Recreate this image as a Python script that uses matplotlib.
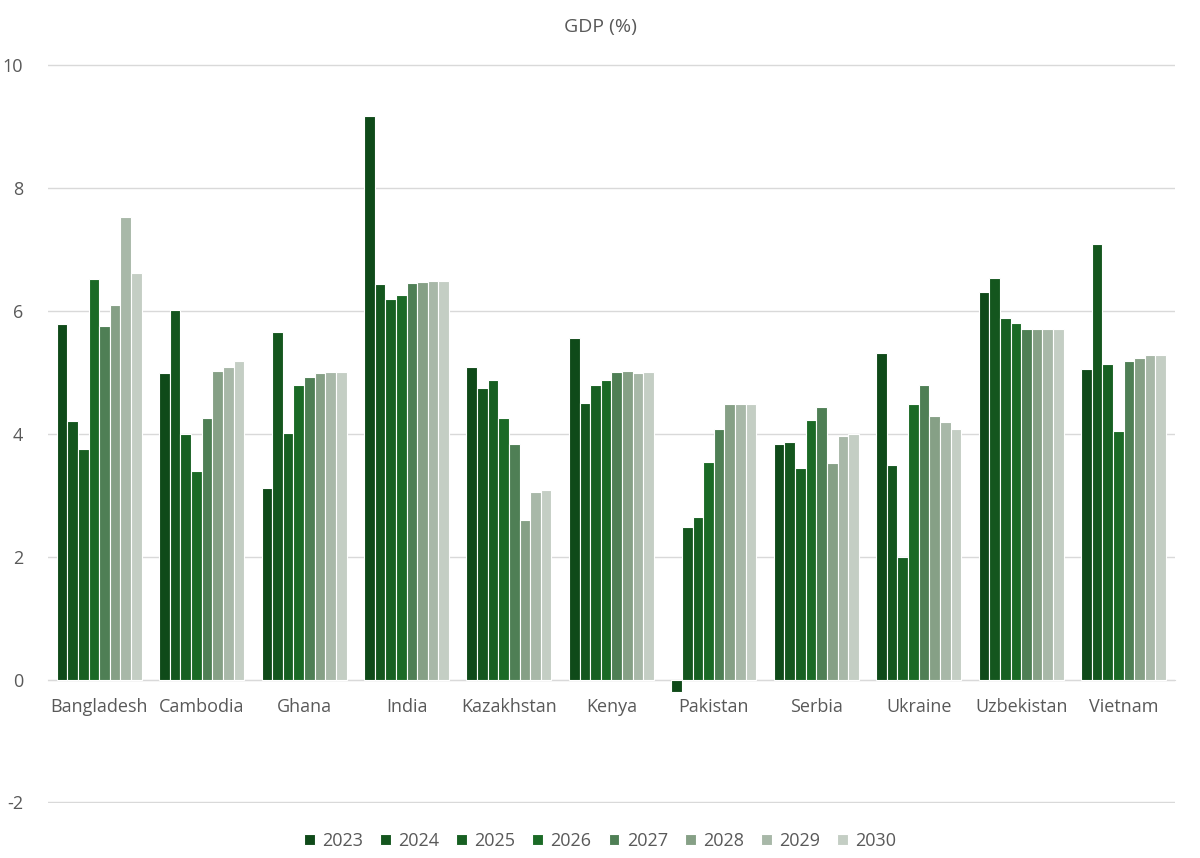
import matplotlib.pyplot as plt
import numpy as np

plt.rcParams['font.family'] = ['Open Sans', 'DejaVu Sans']
plt.rcParams['axes.unicode_minus'] = False

countries = ['Bangladesh', 'Cambodia', 'Ghana', 'India', 'Kazakhstan', 'Kenya',
             'Pakistan', 'Serbia', 'Ukraine', 'Uzbekistan', 'Vietnam']
years = ['2023', '2024', '2025', '2026', '2027', '2028', '2029', '2030']

# GDP growth (%), one list per year, in country order
gdp_2023 = [5.78, 4.98, 3.12, 9.17, 5.09, 5.55, -0.21, 3.83, 5.31, 6.30, 5.05]
gdp_2024 = [4.21, 6.01, 5.66, 6.43, 4.74, 4.50, 2.49, 3.87, 3.49, 6.54, 7.08]
gdp_2025 = [3.75, 3.99, 4.01, 6.19, 4.87, 4.80, 2.64, 3.44, 1.99, 5.89, 5.13]
gdp_2026 = [6.52, 3.40, 4.79, 6.25, 4.25, 4.87, 3.54, 4.22, 4.48, 5.80, 4.04]
gdp_2027 = [5.76, 4.26, 4.93, 6.45, 3.84, 5.01, 4.08, 4.43, 4.79, 5.70, 5.18]
gdp_2028 = [6.10, 5.02, 4.98, 6.47, 2.60, 5.02, 4.48, 3.52, 4.29, 5.70, 5.23]
gdp_2029 = [7.52, 5.08, 5.00, 6.48, 3.05, 4.99, 4.48, 3.97, 4.19, 5.70, 5.28]
gdp_2030 = [6.61, 5.19, 5.00, 6.49, 3.08, 5.01, 4.48, 3.99, 4.08, 5.70, 5.28]
series = [gdp_2023, gdp_2024, gdp_2025, gdp_2026, gdp_2027, gdp_2028, gdp_2029, gdp_2030]

colors = ['#0f4a19', '#14561e', '#176022', '#1b6a26', '#4f7f55', '#86a086', '#a8b8a8', '#c4cec4']
grey = '#595959'

fig = plt.figure(figsize=(12, 8.58), dpi=100)
ax = fig.add_axes([0.04, 0.064, 0.939, 0.861])

x = np.arange(len(countries))
group_w = 0.83
bw = group_w / len(years)
for i, (yr, vals) in enumerate(zip(years, series)):
    ax.bar(x - group_w / 2 + bw * (i + 0.5), vals, width=bw, color=colors[i],
           edgecolor='white', linewidth=0.8, label=yr, zorder=3)

ax.set_xlim(-0.5, len(countries) - 0.5)
ax.set_ylim(-2.01, 10.01)
ax.set_yticks(range(-2, 11, 2))
ax.grid(axis='y', color='#d9d9d9', linewidth=1, zorder=0)
for s in ['top', 'right', 'left']:
    ax.spines[s].set_visible(False)
ax.spines['bottom'].set_position(('data', 0))
ax.spines['bottom'].set_color('#d9d9d9')
ax.spines['bottom'].set_zorder(2)
ax.set_xticks(x)
ax.set_xticklabels(countries)
ax.tick_params(axis='x', length=0, pad=13, labelsize=13, labelcolor=grey)
ax.tick_params(axis='y', length=0, pad=18, labelsize=13, labelcolor=grey)

fig.text(0.5, 0.968, 'GDP (%)', ha='center', va='center', fontsize=14, color=grey)

fig.legend(loc='center', bbox_to_anchor=(0.5, 0.02), ncol=8, frameon=False,
           fontsize=13, labelcolor=grey, handlelength=0.6, handleheight=0.6,
           handletextpad=0.4, columnspacing=0.95)

fig.savefig('out.png', dpi=100)
